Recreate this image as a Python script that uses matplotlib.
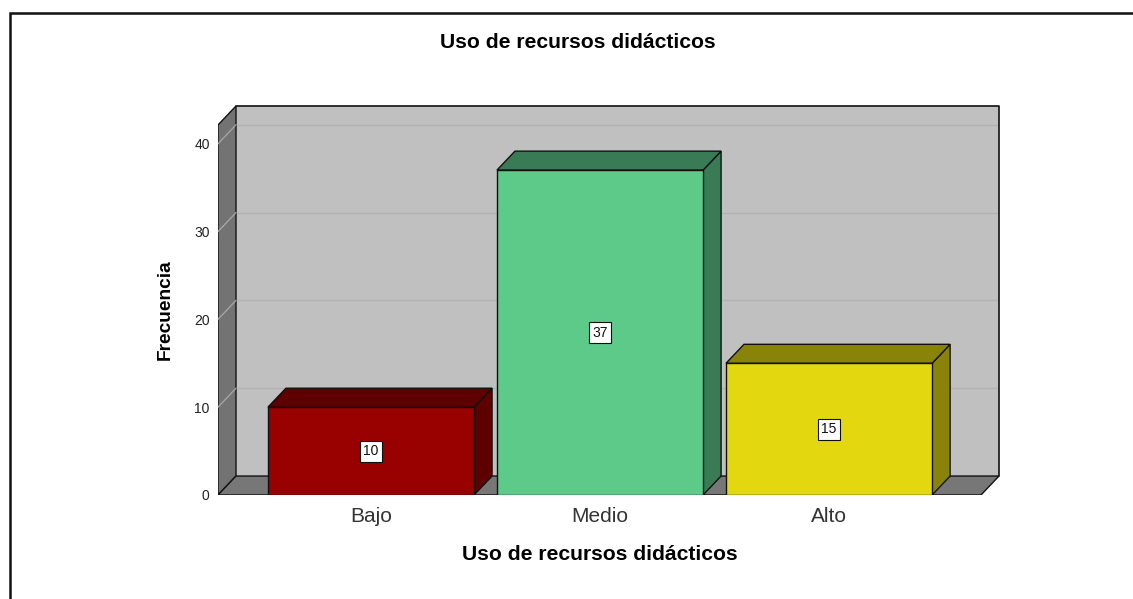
import numpy as np
import matplotlib
matplotlib.use('Agg')
import matplotlib.pyplot as plt
from matplotlib.patches import Polygon, Rectangle


CATEGORIES = ['Bajo', 'Medio', 'Alto']
COUNTS = [10, 37, 15]
Y_TICKS = [0, 10, 20, 30, 40]
FRONT_COLORS = ['#990000', '#5dca8a', '#e3d80f']
SIDE_COLORS = ['#5e0000', '#397b55', '#8a830a']
TITLE = 'Uso de recursos didácticos'

BAR_WIDTH = 0.9
DX = 0.0786   # depth of the 3d effect, data units
DY = 2.16
X_MIN, X_MAX = -0.668, 2.742
Y_TOP = 44.3

plt.rcParams['font.family'] = ['Liberation Sans', 'DejaVu Sans']

fig = plt.figure(figsize=(11.33, 5.99), dpi=100)
ax = fig.add_axes([218 / 1133, 104 / 599, 781 / 1133, 389 / 599])
ax.set_xlim(X_MIN, X_MAX)
ax.set_ylim(0, Y_TOP)
for s in ax.spines.values():
    s.set_visible(False)

x0 = X_MIN
x1 = X_MAX - DX

##################################################################################################
# walls and floor
##################################################################################################

back = Polygon([(x0 + DX, DY), (x1 + DX, DY), (x1 + DX, Y_TOP), (x0 + DX, Y_TOP)],
               facecolor='#c0c0c0', edgecolor='none', zorder=1)
left = Polygon([(x0, 0), (x0 + DX, DY), (x0 + DX, Y_TOP), (x0, Y_TOP - DY)],
               facecolor='#737373', edgecolor='#111111', lw=1.0, zorder=2)
floor = Polygon([(x0, 0), (x1, 0), (x1 + DX, DY), (x0 + DX, DY)],
                facecolor='#777777', edgecolor='#111111', lw=1.0, zorder=2)
ax.add_patch(back)
ax.add_patch(left)
ax.add_patch(floor)

# back wall outline (top and right side)
ax.plot([x0 + DX, x1 + DX, x1 + DX], [Y_TOP, Y_TOP, DY], color='#111111', lw=1.2,
        zorder=3, clip_on=False)

for v in Y_TICKS[1:]:
    ax.plot([x0 + DX, x1 + DX], [v + DY, v + DY], color='#b2b2b2', lw=1.0, zorder=1.5)
    ax.plot([x0, x0 + DX], [v, v + DY], color='#a8a8a8', lw=0.9, zorder=2.5)

##################################################################################################
# bars
##################################################################################################

for i, (cat, val) in enumerate(zip(CATEGORIES, COUNTS)):
    l = i - BAR_WIDTH / 2
    r = i + BAR_WIDTH / 2
    front = Rectangle((l, 0), BAR_WIDTH, val, facecolor=FRONT_COLORS[i],
                      edgecolor='#111111', lw=1.0, zorder=5)
    top = Polygon([(l, val), (r, val), (r + DX, val + DY), (l + DX, val + DY)],
                  facecolor=SIDE_COLORS[i], edgecolor='#111111', lw=1.0, zorder=4)
    side = Polygon([(r, 0), (r + DX, DY), (r + DX, val + DY), (r, val)],
                   facecolor=SIDE_COLORS[i], edgecolor='#111111', lw=1.0, zorder=4)
    ax.add_patch(side)
    ax.add_patch(top)
    ax.add_patch(front)
    ax.text(i, val / 2, str(val), ha='center', va='center', fontsize=10, color='#111111',
            zorder=6, bbox=dict(boxstyle='square,pad=0.25', facecolor='white',
                                edgecolor='#111111', lw=0.8))

##################################################################################################
# ticks, labels, frame
##################################################################################################

ax.set_yticks(Y_TICKS)
ax.set_yticklabels([str(t) for t in Y_TICKS])
ax.set_xticks(range(len(CATEGORIES)))
ax.set_xticklabels(CATEGORIES)
ax.tick_params(axis='y', length=0, pad=6, labelsize=10, labelcolor='#222222')
ax.tick_params(axis='x', length=0, pad=9, labelsize=15, labelcolor='#333333')

ax.set_ylabel('Frecuencia', fontsize=13.8, fontweight='bold')
ax.yaxis.set_label_coords(-0.068, 0.476)
ax.yaxis.label.set_va('center')
ax.set_xlabel(TITLE, fontsize=15.2, fontweight='bold')
ax.xaxis.set_label_coords(0.489, -0.153)
ax.xaxis.label.set_va('center')

fig.text(578 / 1133, 1 - 42 / 599, TITLE, ha='center', va='center', fontsize=15.2,
         fontweight='bold')

frame = Rectangle((10 / 1133, -0.05), 1.1, 1 - 13 / 599 + 0.05, transform=fig.transFigure,
                  facecolor='none', edgecolor='#111111', lw=1.8)
fig.patches.append(frame)

fig.savefig('out.png', dpi=100)
